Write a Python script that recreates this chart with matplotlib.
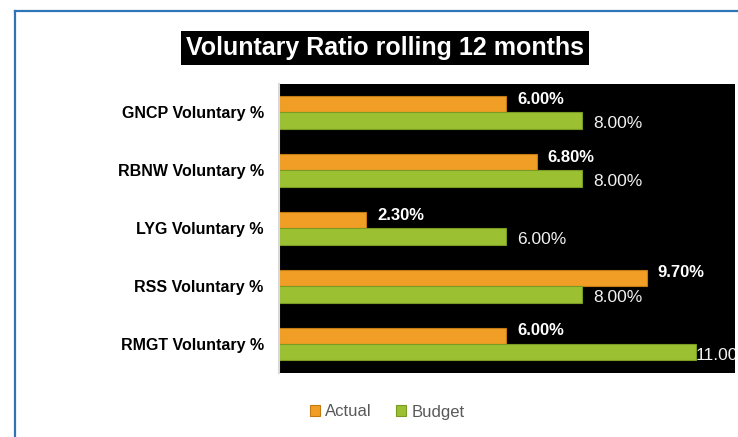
import numpy as np
import matplotlib.pyplot as plt
from matplotlib.lines import Line2D

plt.rcParams['font.family'] = ['Liberation Sans', 'DejaVu Sans']

# data
categories = ['GNCP Voluntary %', 'RBNW Voluntary %', 'LYG Voluntary %',
              'RSS Voluntary %', 'RMGT Voluntary %']
actual = [6.00, 6.80, 2.30, 9.70, 6.00]
budget = [8.00, 8.00, 6.00, 8.00, 11.00]

c_act = '#F09E26'
c_bud = '#9BC132'
xmax = 12.03

fig = plt.figure(figsize=(7.38, 4.37), dpi=100)
ax = fig.add_axes([279 / 738, 1 - 373 / 437, 456 / 738, 289 / 437])
ax.set_facecolor('black')

y = np.arange(len(categories))
h = 0.283
ax.barh(y - h / 2, actual, height=h, color=c_act, edgecolor='#C47A12', linewidth=0.8, label='Actual')
ax.barh(y + h / 2, budget, height=h, color=c_bud, edgecolor='#7A9A22', linewidth=0.8, label='Budget')

for i in range(len(categories)):
    ax.annotate('%.2f%%' % actual[i], (actual[i], y[i] - h / 2), xytext=(11, 5),
                textcoords='offset pixels', ha='left', va='center', fontsize=12,
                fontweight='bold', color='white', annotation_clip=False,
                bbox=dict(facecolor='black', edgecolor='none', pad=1.5))
    # label near the right edge sits on the bar end, like the original
    off = 11 if budget[i] < xmax - 2 else 0
    ax.annotate('%.2f%%' % budget[i], (budget[i], y[i] + h / 2), xytext=(off, -3),
                textcoords='offset pixels', ha='left', va='center', fontsize=12.5,
                color='#F2F2F2', annotation_clip=True, clip_on=True)

ax.set_xlim(0, xmax)
ax.set_ylim(4.5, -0.49)
ax.set_yticks(y)
ax.set_yticklabels(categories, fontsize=11.5, fontweight='bold', color='black')
ax.set_xticks([])
ax.tick_params(axis='y', length=0, pad=11)
for s in ['top', 'right', 'bottom']:
    ax.spines[s].set_visible(False)
ax.spines['left'].set_color('#D9D9D9')
ax.spines['left'].set_linewidth(1.5)

fig.text(385 / 738, 1 - 48 / 437, 'Voluntary Ratio rolling 12 months', ha='center', va='center',
         fontsize=18, fontweight='bold', color='white',
         bbox=dict(facecolor='black', edgecolor='none', pad=3.5))

ax.legend(loc='center', bbox_to_anchor=(387 / 738, 1 - 412 / 437), bbox_transform=fig.transFigure,
          ncol=2, frameon=False, fontsize=12, handlelength=0.6, handleheight=0.6,
          handletextpad=0.3, columnspacing=1.5, labelcolor='#595959')

fig.add_artist(Line2D([15 / 738, 1], [1 - 10.5 / 437, 1 - 10.5 / 437], color='#2E75B6', lw=1.6))
fig.add_artist(Line2D([15 / 738, 15 / 738], [0, 1 - 10.5 / 437], color='#2E75B6', lw=1.6))

fig.savefig('out.png', dpi=100)
